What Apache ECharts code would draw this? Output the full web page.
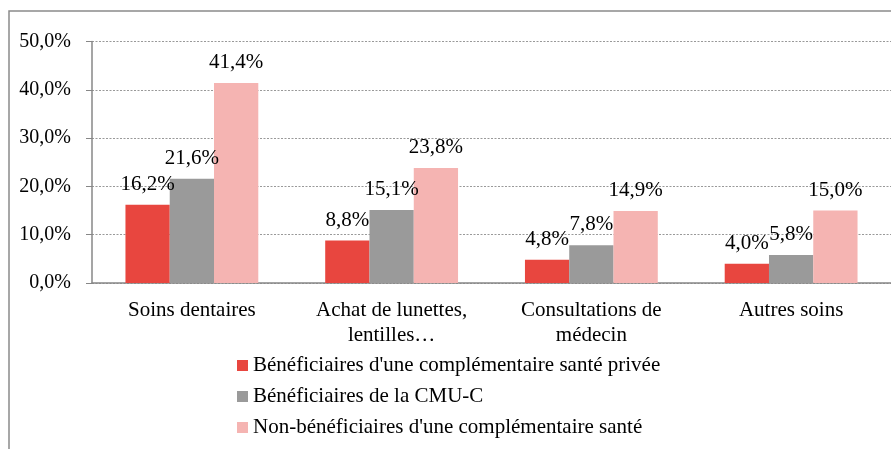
<!DOCTYPE html>
<html lang="fr">
<head>
    <meta charset="UTF-8">
    <title>Renoncement aux soins</title>
    <script src="https://cdn.jsdelivr.net/npm/echarts@6/dist/echarts.min.js"></script>
    <style>
        html, body { margin: 0; padding: 0; background: #fff; overflow: hidden; }
    </style>
</head>
<body>
<!-- conteneur du graphique -->
<div id="bar" style="width: 891px;height: 449px;"></div>
<script>
    // données
    let categories = ['Soins dentaires', 'Achat de lunettes,\nlentilles…', 'Consultations de\nmédecin', 'Autres soins'];
    let seriesNames = [
        "Bénéficiaires d'une complémentaire santé privée",
        'Bénéficiaires de la CMU-C',
        "Non-bénéficiaires d'une complémentaire santé"
    ];
    let privee = [16.2, 8.8, 4.8, 4.0];
    let cmuc = [21.6, 15.1, 7.8, 5.8];
    let sansComp = [41.4, 23.8, 14.9, 15.0];
    let yTicks = [0, 10, 20, 30, 40, 50];

    let font = '"Times New Roman", "Liberation Serif", serif';
    let colors = ['#E8463F', '#9A9A9A', '#F5B4B2'];

    function pct(v) {
        return v.toFixed(1).replace('.', ',') + '%';
    }

    let myEcharts = echarts.init(document.getElementById('bar'));

    let values = [privee, cmuc, sansComp];
    let series = values.map(function (d, i) {
        return {
            name: seriesNames[i],
            type: 'bar',
            data: d,
            barGap: 0,
            barCategoryGap: '33.5%',
            itemStyle: { color: colors[i] },
            label: {
                show: true,
                position: 'top',
                distance: 10,
                fontFamily: font,
                fontSize: 21,
                color: '#000',
                formatter: function (p) { return pct(p.value); }
            }
        };
    });

    let option = {
        animation: false,
        textStyle: { fontFamily: font },
        color: colors,
        grid: { left: 92, right: -13, top: 41.5, bottom: 166 },
        legend: {
            orient: 'vertical',
            left: 232,
            top: 350,
            icon: 'rect',
            itemWidth: 11,
            itemHeight: 11,
            itemGap: 10,
            textStyle: { fontFamily: font, fontSize: 21, color: '#000' },
            data: seriesNames
        },
        xAxis: {
            type: 'category',
            data: categories,
            axisLine: { lineStyle: { color: '#878787', width: 1.5 } },
            axisTick: { length: 5, lineStyle: { color: '#878787' } },
            axisLabel: { fontFamily: font, fontSize: 21, color: '#000', margin: 15, lineHeight: 25 }
        },
        yAxis: {
            type: 'value',
            min: yTicks[0],
            max: yTicks[yTicks.length - 1],
            interval: 10,
            axisLine: { show: true, lineStyle: { color: '#878787', width: 1.5 } },
            axisTick: { show: true, length: 6, lineStyle: { color: '#878787' } },
            axisLabel: {
                fontFamily: font, fontSize: 20, color: '#000', margin: 21,
                formatter: function (v) { return pct(v); }
            },
            splitLine: { lineStyle: { color: '#999', type: [2, 1.5] } }
        },
        graphic: [{
            type: 'rect',
            silent: true,
            shape: { x: 9, y: 11, width: 1000, height: 1000 },
            style: { fill: 'none', stroke: '#8a8a8a', lineWidth: 1.5 }
        }],
        series: series
    };
    myEcharts.setOption(option);
</script>
</body>
</html>
